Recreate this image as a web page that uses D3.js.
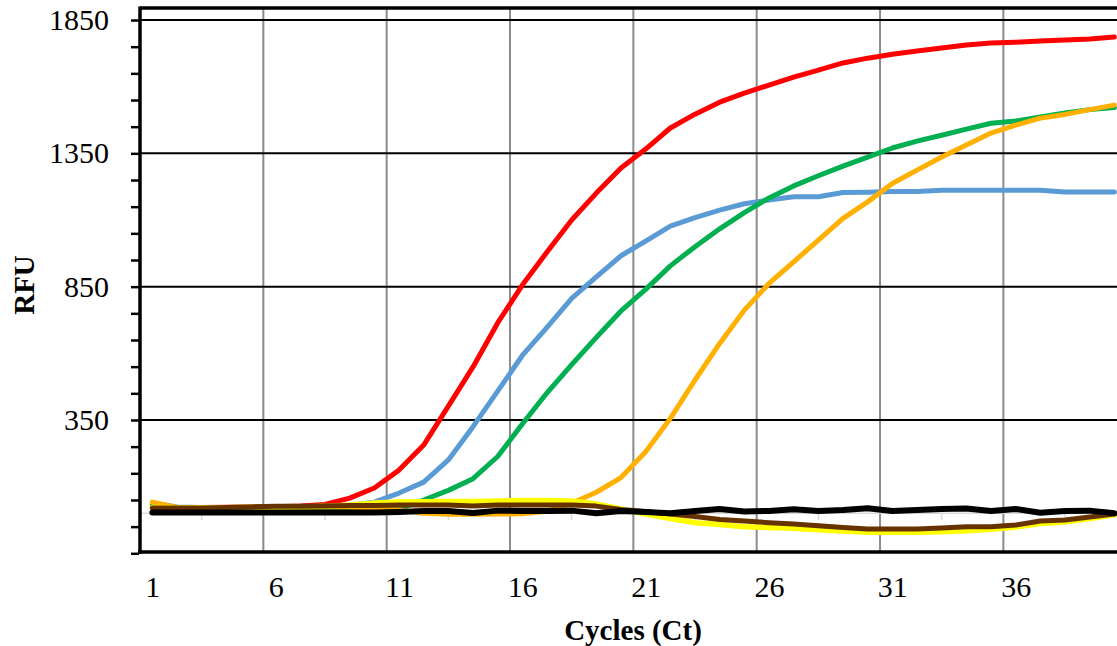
<!DOCTYPE html>
<html>
<head>
<meta charset="utf-8">
<script src="https://cdn.jsdelivr.net/npm/d3@7"></script>
<style>
  body { margin: 0; background: #fff; }
  svg { display: block; }
  .tick-label { font-family: 'Liberation Serif', 'Times New Roman', serif; }
</style>
</head>
<body>
<svg id="chart" width="1117" height="646"></svg>
<script>
// cycles 1..40
const cycles = [1, 2, 3, 4, 5, 6, 7, 8, 9, 10, 11, 12, 13, 14, 15, 16, 17, 18, 19, 20,
  21, 22, 23, 24, 25, 26, 27, 28, 29, 30, 31, 32, 33, 34, 35, 36, 37, 38, 39, 40];

const xLabels = [1, 6, 11, 16, 21, 26, 31, 36];
const yLabels = [350, 850, 1350, 1850];
const yMinor = [-150, -50, 50, 150, 250, 350, 450, 550, 650, 750, 850, 950, 1050, 1150,
  1250, 1350, 1450, 1550, 1650, 1750, 1850];
const xMinor = [3, 8, 13, 18, 23, 28, 33, 38];
const xGrid = [5.5, 10.5, 15.5, 20.5, 25.5, 30.5, 35.5];

// RFU per cycle
const blueVals = [39, 24, 22, 22, 22, 23, 24, 25, 30, 42, 76, 117, 200, 325, 458, 592, 697, 806, 887, 966,
  1021, 1077, 1109, 1137, 1161, 1175, 1187, 1187, 1203, 1204, 1207, 1207, 1212, 1212, 1212, 1212, 1212, 1205, 1205, 1205];
const redVals = [31, 20, 22, 23, 24, 25, 27, 33, 57, 95, 162, 256, 402, 549, 714, 856, 980, 1100, 1201, 1295,
  1366, 1445, 1497, 1542, 1576, 1606, 1636, 1662, 1689, 1707, 1722, 1734, 1745, 1756, 1764, 1767, 1771, 1775, 1779, 1786];
const greenVals = [30, 18, 18, 18, 18, 18, 18, 14, 10, 10, 16, 50, 86, 130, 213, 335, 452, 558, 660, 759,
  840, 928, 1000, 1067, 1128, 1183, 1228, 1266, 1302, 1336, 1370, 1396, 1418, 1441, 1463, 1471, 1486, 1501, 1514, 1522];
const orangeVals = [42, 22, 22, 22, 23, 24, 24, 24, 24, 20, 12, 0, -4, -4, -3, -2, 8, 38, 79, 134,
  231, 356, 500, 637, 762, 862, 943, 1025, 1106, 1168, 1237, 1287, 1336, 1381, 1426, 1456, 1482, 1496, 1514, 1531];
const yellowVals = [22, 20, 20, 21, 22, 23, 24, 26, 31, 39, 42, 43, 44, 44, 46, 48, 48, 46, 35, 16,
  -3, -20, -35, -42, -50, -53, -56, -62, -66, -71, -71, -71, -69, -65, -60, -51, -38, -33, -20, -6];
const brownVals = [20, 20, 20, 22, 24, 26, 26, 27, 29, 29, 31, 31, 31, 27, 31, 31, 31, 31, 27, 14,
  7, -3, -12, -23, -29, -35, -40, -47, -53, -59, -59, -59, -55, -50, -50, -44, -29, -25, -14, -3];
const blackVals = [3, 3, 3, 3, 3, 3, 3, 3, 3, 3, 5, 9, 9, 1, 10, 9, 9, 10, 0, 9,
  5, 0, 9, 16, 7, 9, 15, 9, 12, 19, 9, 12, 16, 18, 9, 16, 2, 9, 10, 0];

const series = [
  { name: 'blue', values: blueVals, color: '#5B9BD5', width: 5 },
  { name: 'red', values: redVals, color: '#FF0000', width: 5 },
  { name: 'green', values: greenVals, color: '#00B050', width: 5 },
  { name: 'orange', values: orangeVals, color: '#FFB000', width: 5 },
  { name: 'yellow', values: yellowVals, color: '#FFFF00', width: 5.5 },
  { name: 'brown', values: brownVals, color: '#663300', width: 5 },
  { name: 'black', values: blackVals, color: '#000000', width: 6 },
];

const svg = d3.select('#chart');
svg.append('rect').attr('width', 1117).attr('height', 646).attr('fill', '#fff');

const x = d3.scaleLinear().domain([0.5, 40.5]).range([140, 1126.7]);
const y = d3.scaleLinear().domain([-150, 1900]).range([553.3, 6.7]);

// vertical gridlines
svg.append('g').selectAll('line')
  .data(xGrid)
  .enter()
  .append('line')
  .attr('x1', d => x(d)).attr('x2', d => x(d))
  .attr('y1', y(1900)).attr('y2', y(-150))
  .attr('stroke', '#8c8c8c')
  .attr('stroke-width', 2);

// horizontal gridlines
svg.append('g').selectAll('line')
  .data(yLabels)
  .enter()
  .append('line')
  .attr('x1', x(0.5)).attr('x2', 1117)
  .attr('y1', d => y(d)).attr('y2', d => y(d))
  .attr('stroke', '#000')
  .attr('stroke-width', 2);

// faint category axis at zero
svg.append('line')
  .attr('x1', x(0.5)).attr('x2', 1117)
  .attr('y1', y(0)).attr('y2', y(0))
  .attr('stroke', '#d9d9d9')
  .attr('stroke-width', 1.5);
svg.append('g').selectAll('line')
  .data(xMinor)
  .enter()
  .append('line')
  .attr('x1', d => x(d)).attr('x2', d => x(d))
  .attr('y1', y(0)).attr('y2', y(0) + 7)
  .attr('stroke', '#d9d9d9')
  .attr('stroke-width', 1.5);

// curves
const line = d3.line()
  .x((d, i) => x(cycles[i]))
  .y(d => y(d));

svg.append('g').selectAll('path')
  .data(series)
  .enter()
  .append('path')
  .attr('d', d => line(d.values))
  .attr('fill', 'none')
  .attr('stroke', d => d.color)
  .attr('stroke-width', d => d.width)
  .attr('stroke-linejoin', 'round')
  .attr('stroke-linecap', 'round');

// frame
svg.append('line')
  .attr('x1', x(0.5)).attr('x2', 1117)
  .attr('y1', 8).attr('y2', 8)
  .attr('stroke', '#000').attr('stroke-width', 3.5);
svg.append('line')
  .attr('x1', x(0.5) - 2).attr('x2', 1117)
  .attr('y1', 552).attr('y2', 552)
  .attr('stroke', '#000').attr('stroke-width', 3.5);
svg.append('line')
  .attr('x1', x(0.5)).attr('x2', x(0.5))
  .attr('y1', 6.5).attr('y2', 554)
  .attr('stroke', '#000').attr('stroke-width', 3.5);

// y axis ticks + labels
const yAxis = d3.axisLeft(y)
  .tickValues(yMinor)
  .tickSize(8)
  .tickPadding(22)
  .tickFormat(d => (yLabels.includes(d) ? d : ''));
const yg = svg.append('g')
  .attr('transform', `translate(${x(0.5) - 1},0)`)
  .call(yAxis);
yg.select('.domain').remove();
yg.selectAll('.tick line').attr('stroke', '#000').attr('stroke-width', 2.5);
yg.selectAll('.tick text')
  .attr('class', 'tick-label')
  .attr('font-size', 30)
  .attr('fill', '#000');

// x axis labels
const xAxis = d3.axisBottom(x)
  .tickValues(xLabels)
  .tickSize(0)
  .tickPadding(23)
  .tickFormat(d => d);
const xg = svg.append('g')
  .attr('transform', 'translate(0,553)')
  .call(xAxis);
xg.select('.domain').remove();
xg.selectAll('.tick text')
  .attr('class', 'tick-label')
  .attr('font-size', 30)
  .attr('fill', '#000');

// axis titles
svg.append('text')
  .attr('x', 633)
  .attr('y', 640)
  .attr('text-anchor', 'middle')
  .attr('font-family', "'Liberation Serif', 'Times New Roman', serif")
  .attr('font-weight', 'bold')
  .attr('font-size', 29)
  .text('Cycles (Ct)');

svg.append('text')
  .attr('transform', 'translate(34,285) rotate(-90)')
  .attr('text-anchor', 'middle')
  .attr('font-family', "'Liberation Serif', 'Times New Roman', serif")
  .attr('font-weight', 'bold')
  .attr('font-size', 29)
  .text('RFU');
</script>
</body>
</html>
